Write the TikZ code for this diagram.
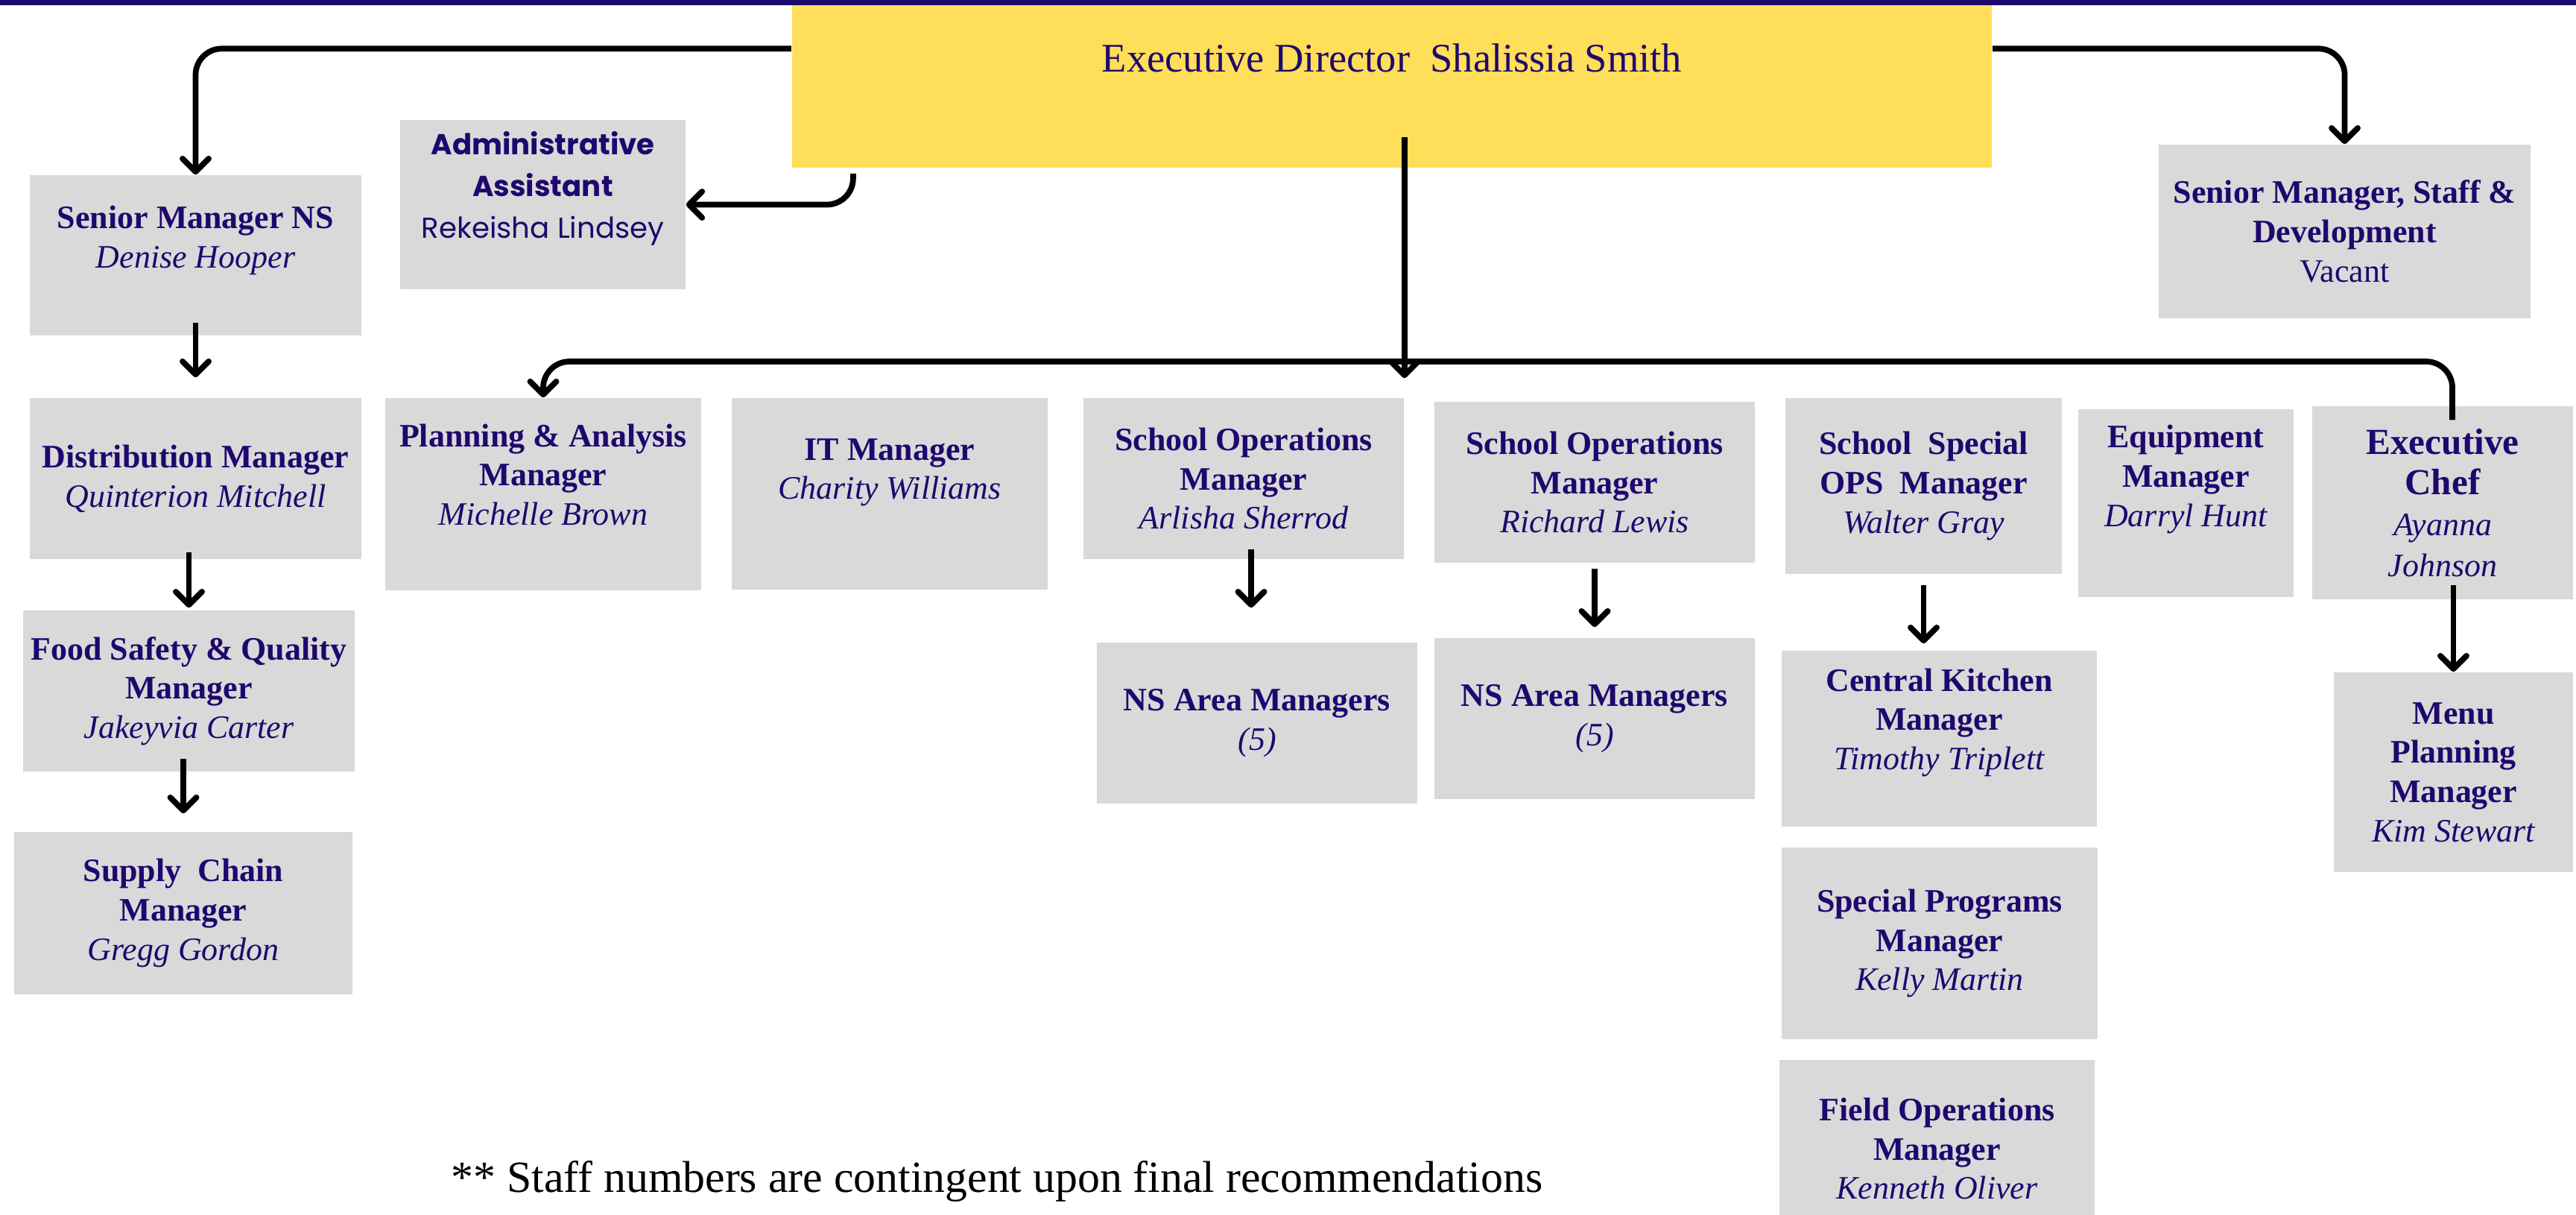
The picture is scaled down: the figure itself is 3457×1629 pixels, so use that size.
\documentclass[tikz,border=0pt]{standalone}
\usepackage{fontspec}
\setmainfont{Liberation Serif}
\newfontfamily\poppins{Poppins}
\usetikzlibrary{arrows.meta}
\definecolor{navy}{RGB}{30,8,110}
\definecolor{boxgray}{RGB}{217,217,217}
\definecolor{gold}{RGB}{255,222,89}
\newcommand\boxfont{\fontsize{12.5}{15}\selectfont\bfseries}
\newcommand\edfont{\fontsize{15.5}{18}\selectfont}
\newcommand\adminfont{\poppins\fontsize{11}{16}\selectfont}
\newcommand\notefont{\fontsize{17}{19}\selectfont}
\newcommand\pname[1]{{\fontsize{12.5}{15}\selectfont\mdseries\itshape #1}}
\tikzset{
  box/.style 2 args={fill=boxgray, text=navy, align=center, inner sep=2pt,
    font=\boxfont, minimum width=#1, minimum height=#2},
  lift/.style={text depth=#1},
  wire/.style={line width=2.2pt, rounded corners=10pt},
  conn/.style={wire, -{Straight Barb[round,length=5pt,width=10pt]}},
}
\begin{document}
\begin{tikzpicture}[x=0.01cm, y=-0.01cm]
  \useasboundingbox (0,0) rectangle (3457,1629);
  % director
  \node[box={16.1cm}{2.25cm}, fill=gold, font=\edfont, lift=20pt] (ed) at (1868,112.5) {Executive Director\ \ Shalissia Smith};
  \fill[navy] (0,0) rectangle (3457,7);
  % first row
  \node[box={4.45cm}{2.15cm}, lift=14pt] (nsmgr) at (262.5,342.5) {Senior Manager NS\\\pname{Denise Hooper}};
  \node[box={3.83cm}{2.27cm}, font=\adminfont, lift=15pt] (admin) at (728.5,274.5) {\bfseries Administrative\\\bfseries Assistant\\Rekeisha Lindsey};
  \node[box={4.99cm}{2.33cm}] (staffdev) at (3146.5,310.5) {Senior Manager, Staff \&\\Development\\{\mdseries Vacant}};
  % left column
  \node[box={4.45cm}{2.16cm}] (dist) at (262.5,642) {Distribution Manager\\\pname{Quinterion Mitchell}};
  \node[box={4.45cm}{2.16cm}] (food) at (253.5,927) {Food Safety \& Quality\\Manager\\\pname{Jakeyvia Carter}};
  \node[box={4.54cm}{2.18cm}] (supply) at (246,1225) {Supply\ \ Chain\\Manager\\\pname{Gregg Gordon}};
  % managers under the bus
  \node[box={4.24cm}{2.58cm}, lift=15pt] (plan) at (729,663) {Planning \& Analysis\\Manager\\\pname{Michelle Brown}};
  \node[box={4.24cm}{2.57cm}, lift=19pt] (itmgr) at (1194,662.5) {IT Manager\\\pname{Charity Williams}};
  \node[box={4.30cm}{2.16cm}] (ops1) at (1669,642) {School Operations\\Manager\\\pname{Arlisha Sherrod}};
  \node[box={4.30cm}{2.16cm}] (ops2) at (2140,647) {School Operations\\Manager\\\pname{Richard Lewis}};
  \node[box={3.71cm}{2.36cm}] (specops) at (2581.5,652) {School\ \ Special\\OPS\ \ Manager\\\pname{Walter Gray}};
  \node[box={2.89cm}{2.52cm}, lift=21pt] (equip) at (2933.5,675) {Equipment\\Manager\\\pname{Darryl Hunt}};
  \node[box={3.50cm}{2.59cm}, font=\fontsize{14}{15.6}\selectfont\bfseries] (chef) at (3278,674.5) {Executive\\Chef\\\pname{Ayanna}\\\pname{Johnson}};
  % lower boxes
  \node[box={4.30cm}{2.16cm}] (area1) at (1687,970) {NS Area Managers\\\pname{(5)}};
  \node[box={4.30cm}{2.16cm}] (area2) at (2140,964) {NS Area Managers\\\pname{(5)}};
  \node[box={4.23cm}{2.36cm}, lift=15pt] (kitchen) at (2602.5,991) {Central Kitchen\\Manager\\\pname{Timothy Triplett}};
  \node[box={4.24cm}{2.57cm}] (specprog) at (2603,1265.5) {Special Programs\\Manager\\\pname{Kelly Martin}};
  \node[box={4.23cm}{2.38cm}] (fieldops) at (2599.5,1541) {Field Operations\\Manager\\\pname{Kenneth Oliver}};
  \node[box={3.21cm}{2.68cm}] (menu) at (3292.5,1036) {Menu\\Planning\\Manager\\\pname{Kim Stewart}};
  \node[font=\notefont, anchor=base] (note) at (1338,1599) {** Staff numbers are contingent upon final recommendations};
  % connectors
  \draw[conn] ([yshift=-.66cm]ed.north west) -| (nsmgr.north);
  \draw[conn] ([yshift=-.66cm]ed.north east) -| (staffdev.north);
  \draw[conn] ([xshift=.83cm,yshift=-.07cm]ed.south west) |- (admin.east);
  \draw[conn] ([yshift=.42cm]ed.south -| ops1.north east) -- ([yshift=.26cm]ops1.north east);
  \coordinate (hub) at (ops1.north east |- 0,485);
  \draw[conn] (hub) -| (plan.north);
  \draw[wire] (hub) -| ([xshift=.13cm,yshift=-.19cm]chef.north);
  \draw[conn] ([yshift=.18cm]nsmgr.south) -- ([yshift=.27cm]dist.north);
  \draw[conn] ([yshift=.1cm]dist.south -| food.north) -- ([yshift=.03cm]food.north);
  \draw[conn] ([yshift=.18cm]food.south -| supply.north) -- ([yshift=.24cm]supply.north);
  \draw[conn] ([xshift=.1cm,yshift=.14cm]ops1.south) -- ([xshift=.1cm,yshift=.46cm]ops1.south |- area1.north);
  \draw[conn] ([yshift=-.07cm]ops2.south) -- ([yshift=.14cm]area2.north);
  \draw[conn] ([yshift=-.14cm]specops.south) -- ([yshift=.09cm]specops.south |- kitchen.north);
  \draw[conn] ([yshift=.2cm]chef.south -| menu.north) -- (menu.north);
\end{tikzpicture}
\end{document}
